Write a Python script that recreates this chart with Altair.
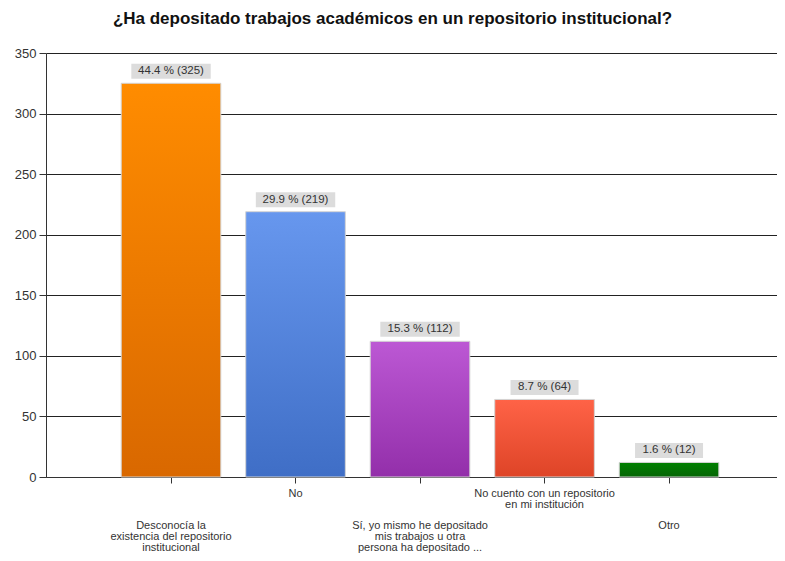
import altair as alt
import pandas as pd

categories = [
    "Desconocía la\nexistencia del repositorio\ninstitucional",
    "No",
    "Sí, yo mismo he depositado\nmis trabajos u otra\npersona ha depositado ...",
    "No cuento con un repositorio\nen mi institución",
    "Otro",
]
counts = [325, 219, 112, 64, 12]
percents = [44.4, 29.9, 15.3, 8.7, 1.6]
y_ticks = [0, 50, 100, 150, 200, 250, 300, 350]

title_text = "¿Ha depositado trabajos académicos en un repositorio institucional?"

gradients = [
    ("#FF8C00", "#D96800"),
    ("#6797EE", "#3F6EC6"),
    ("#BC58D4", "#932FAA"),
    ("#FF6347", "#DE4427"),
    ("#008000", "#066506"),
]

df = pd.DataFrame({"cat": categories, "count": counts, "pct": percents})

FONT = "Liberation Sans"

x_enc = alt.X(
    "cat:N",
    sort=categories,
    scale=alt.Scale(paddingInner=0.2, paddingOuter=0.5356, align=0.564),
    axis=alt.Axis(
        title=None,
        labelAngle=0,
        labelExpr="split(datum.value, '\\n')",
        labelAlign="center",
        labelBaseline="top",
        labelLineHeight=11,
        labelFont=FONT,
        labelFontSize=11,
        labelColor="#333333",
        labelLimit=300,
        labelOverlap=False,
        labelPadding={
            "condition": {"test": "round(datum.index*4) % 2 == 0", "value": 36},
            "value": 4,
        },
        tickSize=6,
        tickColor="#333333",
        domainColor="#333333",
        grid=False,
    ),
)
y_enc = alt.Y(
    "count:Q",
    scale=alt.Scale(domain=[0, 350], nice=False),
    axis=alt.Axis(
        title=None,
        values=y_ticks,
        grid=True,
        gridColor="#222222",
        gridOpacity=1,
        tickSize=7,
        tickColor="#333333",
        domainColor="#333333",
        labelFont=FONT,
        labelFontSize=13,
        labelColor="#333333",
        labelPadding=3,
    ),
)

base = alt.Chart(df)

layers = []
for c, (top, bottom) in zip(categories, gradients):
    grad = alt.LinearGradient(
        gradient="linear",
        stops=[alt.GradientStop(color=top, offset=0), alt.GradientStop(color=bottom, offset=1)],
        x1=0, x2=0, y1=0, y2=1,
    )
    layers.append(
        base.transform_filter(alt.FieldEqualPredicate(field="cat", equal=c))
        .mark_bar(color=grad, stroke="#d4d4d4", strokeWidth=1)
        .encode(x=x_enc, y=y_enc)
    )

labelled = base.transform_calculate(
    label="format(datum.pct, '.1f') + ' % (' + datum.count + ')'"
).transform_calculate(boxw="length(datum.label) * 5.7 + 11")

boxes = labelled.mark_tick(color="#DCDCDC", opacity=1, thickness=15, yOffset=-12).encode(
    x=x_enc, y=y_enc, size=alt.Size("boxw:Q", scale=None, legend=None)
)
texts = labelled.mark_text(
    dy=-12, font=FONT, fontSize=11.5, color="#333333", baseline="middle", align="center"
).encode(x=x_enc, y=y_enc, text="label:N")

chart = (
    alt.layer(*layers, boxes, texts)
    .properties(
        width=731,
        height=424,
        title=alt.TitleParams(
            text=title_text,
            font=FONT,
            fontSize=17,
            fontWeight="bold",
            color="#111111",
            anchor="middle",
            dx=-19,
            offset=19,
        ),
        autosize=alt.AutoSizeParams(type="none"),
        padding={"left": 38, "top": 45, "right": 0, "bottom": 76},
        background="white",
    )
    .configure_view(stroke=None)
)

chart.save("out.html", embed_options={"renderer": "svg", "actions": False})
